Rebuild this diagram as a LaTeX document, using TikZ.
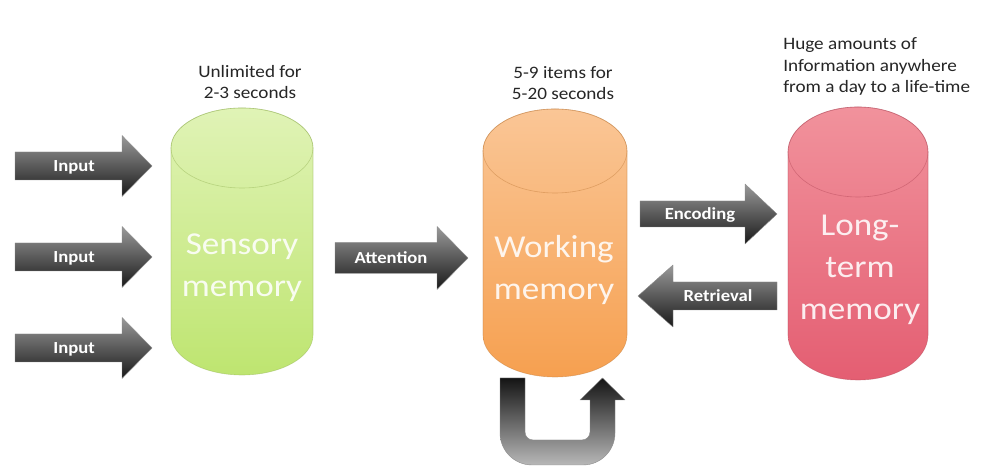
\documentclass[tikz,border=0pt]{standalone}
\usepackage{fontspec}
\setmainfont{Carlito}[FakeStretch=1.1]
\definecolor{senstop}{RGB}{224,243,182}
\definecolor{sensbot}{RGB}{190,229,112}
\definecolor{worktop}{RGB}{250,198,150}
\definecolor{workbot}{RGB}{246,160,80}
\definecolor{ltmtop}{RGB}{241,146,156}
\definecolor{ltmbot}{RGB}{228,94,114}
\tikzset{
  blockarrow/.style={top color=black!40, bottom color=black!90, draw=black!45, line width=0.4bp},
  uarrow/.style={top color=black!92, bottom color=black!28, draw=black!45, line width=0.4bp},
  arrowlabel/.style={text=white, anchor=base, inner sep=0pt, font=\fontsize{17}{20}\selectfont\bfseries},
  cyltext/.style={text=white, text opacity=0.88, align=center, inner sep=0pt, font=\fontsize{32}{42}\selectfont},
  note/.style={text=black!85, inner sep=0pt, font=\fontsize{17.5}{21.5}\selectfont},
}
\begin{document}
\begin{tikzpicture}[x=1bp,y=1bp,line join=round]
  \pgfsetlinewidth{0.6bp}
  \useasboundingbox (0,0) rectangle (987,466);
  \fill[white] (0,0) rectangle (987,466);
%%
  % Node: Sensory
\begin{scope}
  \draw [top color=senstop, bottom color=sensbot, draw=sensbot!80!black, draw opacity=0.5]
    (171,318) -- (171,131) arc (180:360:71 and 40) -- (313,318) arc (0:180:71 and 40) -- cycle;
  \draw [draw=sensbot!80!black, draw opacity=0.5] (242,318) ellipse (71 and 40);
  \node [cyltext] (sens) at (242,198) {Sensory\\memory};
  \node [note, align=center] (sensnote) at (250,384) {Unlimited for\\2-3 seconds};
\end{scope}
  % Node: Working
\begin{scope}
  \draw [top color=worktop, bottom color=workbot, draw=workbot!80!black, draw opacity=0.5]
    (483,315) -- (483,131) arc (180:360:72 and 42) -- (627,315) arc (0:180:72 and 42) -- cycle;
  \draw [draw=workbot!80!black, draw opacity=0.5] (555,315) ellipse (72 and 42);
  \node [cyltext] (work) at (554,196) {Working\\memory};
  \node [note, align=center] (worknote) at (563,383) {5-9 items for\\5-20 seconds};
\end{scope}
  % Node: Long-term
\begin{scope}
  \draw [top color=ltmtop, bottom color=ltmbot, draw=ltmbot!80!black, draw opacity=0.5]
    (788,314) -- (788,131) arc (180:360:70 and 45) -- (928,314) arc (0:180:70 and 45) -- cycle;
  \draw [draw=ltmbot!80!black, draw opacity=0.5] (858,314) ellipse (70 and 45);
  \node [cyltext] (ltm) at (860,196) {Long-\\term\\memory};
  \node [note, align=left, anchor=west] (ltmnote) at (783,399.5) {Huge amounts of\\Information anywhere\\from a day to a life-time};
\end{scope}
%%
  % Edge: Input -> Sensory
  \draw [blockarrow] (15,286) -- (122,286) -- (122,269.5) -- (152,300) -- (122,330.5) -- (122,314) -- (15,314) -- cycle;
  \node [arrowlabel] (in1) at (74,294.5) {Input};
  % Edge: Input -> Sensory
  \draw [blockarrow] (15,195) -- (122,195) -- (122,178.5) -- (152,209) -- (122,239.5) -- (122,223) -- (15,223) -- cycle;
  \node [arrowlabel] (in2) at (74,203.5) {Input};
  % Edge: Input -> Sensory
  \draw [blockarrow] (15,104) -- (122,104) -- (122,87.5) -- (152,118) -- (122,148.5) -- (122,132) -- (15,132) -- cycle;
  \node [arrowlabel] (in3) at (74,112.5) {Input};
  % Edge: Sensory -> Working
  \draw [blockarrow] (335,192.5) -- (437,192.5) -- (437,176.5) -- (468,208) -- (437,239.5) -- (437,223.5) -- (335,223.5) -- cycle;
  \node [arrowlabel] (att) at (391,202.5) {Attention};
  % Edge: Working -> Long-term
  \draw [blockarrow] (640,239) -- (745,239) -- (745,222) -- (777,252) -- (745,282) -- (745,265) -- (640,265) -- cycle;
  \node [arrowlabel] (enc) at (700,246.5) {Encoding};
  % Edge: Long-term -> Working
  \draw [blockarrow] (777,156) -- (673,156) -- (673,139) -- (638,170) -- (673,201) -- (673,184) -- (777,184) -- cycle;
  \node [arrowlabel] (ret) at (718,164.5) {Retrieval};
  % Edge: Working -> Working
  \draw [uarrow] (500,88) -- (500,33) arc (180:270:32) -- (583,1) arc (270:360:32) -- (615,66) -- (625,66)
    -- (602.5,88) -- (580,66) -- (590,66) -- (590,34) arc (0:-90:8) -- (533,26) arc (270:180:8) -- (525,88) -- cycle;
%
\end{tikzpicture}
\end{document}
